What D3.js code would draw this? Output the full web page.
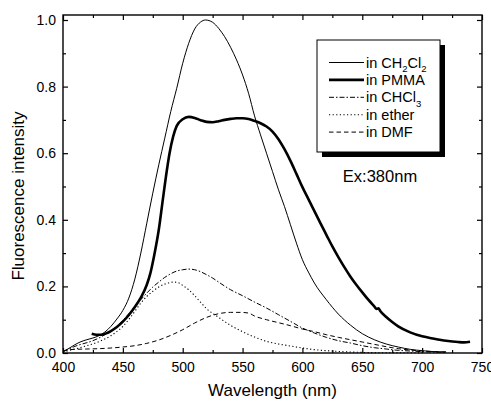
<!DOCTYPE html>
<html><head><meta charset="utf-8">
<script src="https://cdn.jsdelivr.net/npm/d3@7/dist/d3.min.js"></script>
<style>body{margin:0;background:#fff}svg{display:block;font-family:"Liberation Sans",Arial,sans-serif}</style>
</head><body><svg id="c" width="491" height="403"></svg>
<script>
// ---- data (wavelength nm, normalized intensity) ----
const xTickValues = [400,450,500,550,600,650,700,750];
const yTickValues = [0.0,0.2,0.4,0.6,0.8,1.0];
const xTitle = "Wavelength (nm)";
const yTitle = "Fluorescence intensity";
const annotation = "Ex:380nm";

const ch2cl2 = [[400,0.004],[405,0.014],[410,0.025],[415,0.034],[420,0.040],[425,0.045],[430,0.052],[435,0.063],[440,0.080],[445,0.102],[450,0.128],[455,0.165],[460,0.222],[465,0.300],[470,0.390],[475,0.480],[480,0.565],[485,0.645],[490,0.725],[495,0.795],[500,0.870],[505,0.930],[510,0.973],[515,0.994],[519,1.0],[525,0.993],[530,0.975],[535,0.950],[540,0.918],[545,0.880],[550,0.835],[555,0.780],[560,0.712],[565,0.655],[570,0.600],[575,0.545],[580,0.490],[585,0.440],[590,0.385],[595,0.330],[600,0.280],[605,0.243],[610,0.210],[620,0.160],[630,0.117],[640,0.084],[650,0.058],[660,0.040],[670,0.027],[680,0.018],[690,0.011],[700,0.007],[710,0.004],[720,0.003]];

const pmma = [[424,0.058],[428,0.055],[432,0.055],[436,0.059],[440,0.066],[445,0.078],[450,0.094],[455,0.114],[460,0.138],[465,0.166],[470,0.205],[473,0.240],[476,0.290],[480,0.370],[483,0.450],[486,0.530],[489,0.600],[492,0.650],[495,0.682],[500,0.702],[505,0.709],[510,0.706],[515,0.699],[520,0.694],[525,0.693],[530,0.696],[535,0.700],[540,0.703],[545,0.705],[550,0.705],[555,0.703],[560,0.697],[565,0.690],[570,0.680],[575,0.665],[580,0.642],[585,0.612],[590,0.577],[595,0.538],[600,0.498],[605,0.462],[610,0.426],[615,0.390],[620,0.355],[625,0.320],[630,0.288],[635,0.258],[640,0.230],[645,0.205],[650,0.182],[655,0.160],[660,0.140],[662,0.132],[663.5,0.134],[665,0.126],[670,0.108],[675,0.093],[680,0.080],[690,0.062],[700,0.050],[710,0.043],[720,0.037],[730,0.033],[735,0.032],[740,0.034]];

const chcl3 = [[400,0.005],[405,0.012],[410,0.020],[415,0.026],[420,0.031],[425,0.037],[430,0.045],[435,0.055],[440,0.066],[445,0.080],[450,0.098],[455,0.118],[460,0.140],[465,0.160],[470,0.180],[475,0.198],[480,0.213],[485,0.227],[490,0.238],[495,0.246],[500,0.250],[505,0.252],[510,0.250],[515,0.244],[520,0.235],[525,0.225],[530,0.213],[535,0.201],[540,0.190],[550,0.172],[560,0.153],[570,0.135],[580,0.115],[590,0.095],[600,0.075],[610,0.060],[620,0.047],[630,0.037],[640,0.030],[650,0.022],[660,0.016],[670,0.012],[680,0.008],[690,0.006],[700,0.004],[720,0.002]];

const ether = [[400,0.003],[410,0.012],[420,0.022],[430,0.034],[440,0.052],[450,0.080],[460,0.125],[465,0.150],[470,0.170],[475,0.185],[480,0.198],[485,0.207],[490,0.212],[493,0.213],[497,0.210],[500,0.203],[505,0.190],[510,0.172],[515,0.152],[520,0.133],[530,0.107],[540,0.083],[550,0.064],[560,0.048],[570,0.035],[580,0.027],[590,0.021],[600,0.015],[610,0.010],[620,0.007],[640,0.003],[660,0.001],[700,0.0005]];

const dmf = [[400,0.004],[405,0.010],[410,0.011],[420,0.012],[430,0.013],[440,0.015],[450,0.018],[460,0.022],[470,0.029],[480,0.039],[490,0.053],[500,0.070],[510,0.090],[520,0.107],[530,0.118],[540,0.122],[548,0.122],[555,0.120],[560,0.111],[570,0.100],[580,0.091],[590,0.082],[600,0.072],[610,0.064],[620,0.055],[630,0.047],[640,0.040],[650,0.033],[660,0.026],[670,0.019],[680,0.013],[690,0.009],[700,0.006],[710,0.004],[720,0.003]];

const seriesNames = [["in CH","2","Cl","2"],["in PMMA"],["in CHCl","3"],["in ether"],["in DMF"]];

// ---- layout ----
const svg = d3.select("#c");
const L = 63, R = 482, T = 15, B = 353;
const x = d3.scaleLinear().domain([400,750]).range([L,R]);
const y = d3.scaleLinear().domain([0,1.015]).range([B,T]);

const styles = [
  {data: ch2cl2, w: 1, dash: null},
  {data: pmma, w: 2.6, dash: null},
  {data: chcl3, w: 1, dash: "5,2,1.5,2"},
  {data: ether, w: 1.1, dash: "1.2,2.4"},
  {data: dmf, w: 1, dash: "4.5,3"}
];

const line = d3.line().x(d => x(d[0])).y(d => y(d[1])).curve(d3.curveMonotoneX);
const g = svg.append("g");
styles.forEach(s => {
  g.append("path").attr("d", line(s.data)).attr("fill","none").attr("stroke","#000")
   .attr("stroke-width", s.w).attr("stroke-dasharray", s.dash).attr("stroke-linejoin","round");
});

// ---- axes (ticks inward on all four sides) ----
const minorX = d3.range(400, 751, 25).filter(v => v % 50 !== 0);
const minorY = d3.range(0, 1.01, 0.1).filter((v,i) => i % 2 === 1);
const fs = 14;
svg.append("g").attr("transform",`translate(0,${B})`)
  .call(d3.axisBottom(x).tickValues(xTickValues).tickSize(-5).tickPadding(9).tickFormat(d3.format("d")));
svg.append("g").attr("transform",`translate(0,${B})`).call(d3.axisBottom(x).tickValues(minorX).tickSize(-3).tickFormat(""));
svg.append("g").attr("transform",`translate(0,${T})`).call(d3.axisTop(x).tickValues(xTickValues).tickSize(-5).tickFormat(""));
svg.append("g").attr("transform",`translate(0,${T})`).call(d3.axisTop(x).tickValues(minorX).tickSize(-3).tickFormat(""));
svg.append("g").attr("transform",`translate(${L},0)`)
  .call(d3.axisLeft(y).tickValues(yTickValues).tickSize(-5).tickPadding(7).tickFormat(d3.format(".1f")));
svg.append("g").attr("transform",`translate(${L},0)`).call(d3.axisLeft(y).tickValues(minorY).tickSize(-3).tickFormat(""));
svg.append("g").attr("transform",`translate(${R},0)`).call(d3.axisRight(y).tickValues(yTickValues).tickSize(-5).tickFormat(""));
svg.append("g").attr("transform",`translate(${R},0)`).call(d3.axisRight(y).tickValues(minorY).tickSize(-3).tickFormat(""));

svg.selectAll(".domain").remove();
svg.selectAll(".tick line").attr("stroke","#000").attr("stroke-width",1.2);
svg.selectAll(".tick text").attr("font-size",fs).attr("fill","#000").attr("font-family","Liberation Sans, Arial, sans-serif");
svg.append("rect").attr("x",L).attr("y",T).attr("width",R-L).attr("height",B-T)
  .attr("fill","none").attr("stroke","#000").attr("stroke-width",1.4);

// titles
svg.append("text").attr("x",(L+R)/2).attr("y",396).attr("text-anchor","middle")
  .attr("font-size",17).text(xTitle);
svg.append("text").attr("transform","translate(24,196) rotate(-90)").attr("text-anchor","middle")
  .attr("font-size",17).text(yTitle);

// legend with shadow
const lx = 317, ly = 40, lw = 123, lh = 112;
svg.append("rect").attr("x",lx+5).attr("y",ly+5).attr("width",lw).attr("height",lh).attr("fill","#000");
svg.append("rect").attr("x",lx).attr("y",ly).attr("width",lw).attr("height",lh).attr("fill","#fff").attr("stroke","#000").attr("stroke-width",1);
seriesNames.forEach((parts,i) => {
  const yy = 62.5 + i*17.4;
  const s = styles[i];
  svg.append("line").attr("x1",329).attr("x2",364).attr("y1",yy).attr("y2",yy)
    .attr("stroke","#000").attr("stroke-width",s.w).attr("stroke-dasharray",s.dash);
  const t = svg.append("text").attr("x",366).attr("y",yy+5).attr("font-size",14.5);
  parts.forEach((p,j) => {
    if (j % 2 === 0) t.append("tspan").attr("dy", j===0?0:-4.5).attr("font-size",14.5).text(p);
    else t.append("tspan").attr("dy",4.5).attr("font-size",9.5).text(p);
  });
});
svg.append("text").attr("x",380).attr("y",182).attr("text-anchor","middle").attr("font-size",16.5).text(annotation);
</script></body></html>
